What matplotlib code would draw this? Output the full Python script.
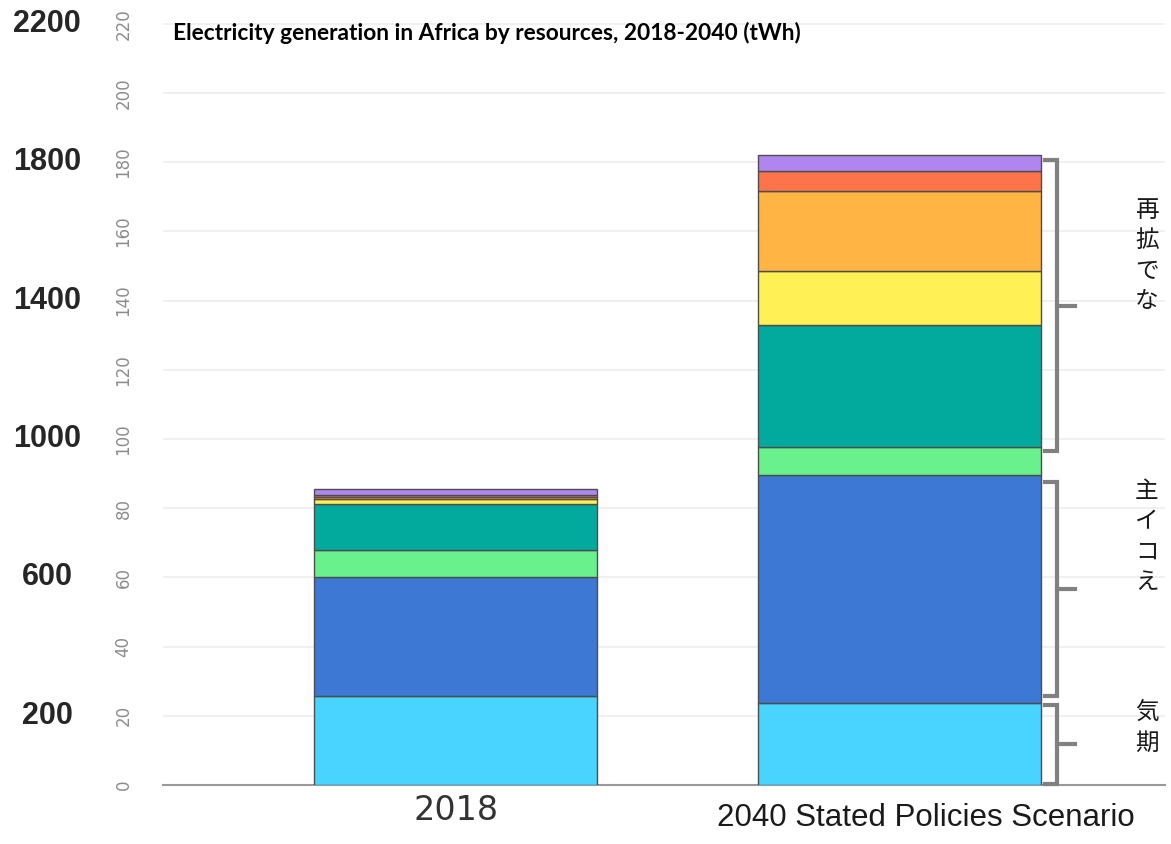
import matplotlib.pyplot as plt
from matplotlib.transforms import blended_transform_factory

plt.rcParams['font.family'] = ['Liberation Sans', 'DejaVu Sans']

# categories
years = ['2018', '2040 Stated Policies Scenario']

# generation by source, tWh (stacked bottom to top)
coal = [257, 237]
gas = [344, 659]
oil = [78, 81]
hydro = [133, 353]
wind = [14, 156]
solar = [7, 231]
geothermal = [5, 58]
other = [17, 45]

series = [coal, gas, oil, hydro, wind, solar, geothermal, other]
colors = ['#48D4FE', '#3C78D4', '#69F18E', '#02AA9E', '#FFF056', '#FFB443', '#FE744A', '#B085EE']

# axis labels
inner_ticks = list(range(0, 2201, 200))
inner_labels = [str(v // 10) for v in inner_ticks]
outer_labels = [200, 600, 1000, 1400, 1800, 2200]

# bracket spans (tWh) and the (cut-off) notes beside them
bracket_spans = [(966, 1806), (256, 876), (3, 232)]
notes = [
    ['再', '拡', 'で', 'な'],
    ['主', 'イ', 'コ', 'え'],
    ['気', '期'],
]
note_y = [1529, 717, 165]

fig = plt.figure(figsize=(11.71, 8.44), dpi=100)
ax = fig.add_axes([163 / 1171, 59 / 844, (1165 - 163) / 1171, 768 / 844])

x = [0, 1]
bottom = [0, 0]
for vals, col in zip(series, colors):
    ax.bar(x, vals, width=0.637, bottom=bottom, color=col,
           edgecolor='#4d4d4d', linewidth=1, zorder=3)
    bottom = [b + v for b, v in zip(bottom, vals)]

ax.set_xlim(-0.659, 1.598)
ax.set_ylim(0, 2220)
ax.set_yticks(inner_ticks)
ax.set_yticklabels(inner_labels, rotation=90, color='#8c8c8c', fontsize=12,
                   va='center', family='DejaVu Sans')
ax.tick_params(axis='y', length=0, pad=22)
ax.set_xticks([])
ax.grid(axis='y', color='#eeeeee', linewidth=1.2, zorder=0)
for s in ['top', 'right', 'left']:
    ax.spines[s].set_visible(False)
ax.spines['bottom'].set_color('#9a9a9a')
ax.spines['bottom'].set_linewidth(1.5)

# outer bold labels
tr = blended_transform_factory(fig.transFigure, ax.transData)
for v in outer_labels:
    ax.text(47 / 1171, v, str(v), transform=tr, ha='center', va='center',
            fontsize=22, fontweight='bold', color='#262626')

# category labels
trx = blended_transform_factory(ax.transData, fig.transFigure)
ax.text(0, 1 - 811 / 844, years[0], transform=trx, ha='center', va='center',
        fontsize=24, color='#333333', family='DejaVu Sans')
ax.text(1.06, 1 - 818 / 844, years[1], transform=trx, ha='center', va='center',
        fontsize=22.5, color='#1a1a1a')

fig.text(173 / 1171, 1 - 33 / 844,
         'Electricity generation in Africa by resources, 2018-2040 (tWh)',
         fontsize=16.4, fontweight='bold', family='Lato', va='center', color='black')

# brackets
xl, xv, xt = 1.327, 1.355, 1.395
for y0, y1 in bracket_spans:
    ax.plot([xl, xv, xv, xl], [y0, y0, y1, y1], color='#808080', lw=3,
            solid_joinstyle='miter', clip_on=False, zorder=4)
    ym = (y0 + y1) / 2
    ax.plot([xv, xt], [ym, ym], color='#808080', lw=3, clip_on=False, zorder=4)

trn = blended_transform_factory(fig.transFigure, ax.transData)
for lines, yy in zip(notes, note_y):
    ax.text(1135 / 1171, yy, '\n'.join(lines), transform=trn, ha='left', va='center',
            fontsize=17, linespacing=1.4, color='#1a1a1a',
            family=['Noto Sans CJK JP', 'DejaVu Sans'])

fig.savefig('out.png', dpi=100)
